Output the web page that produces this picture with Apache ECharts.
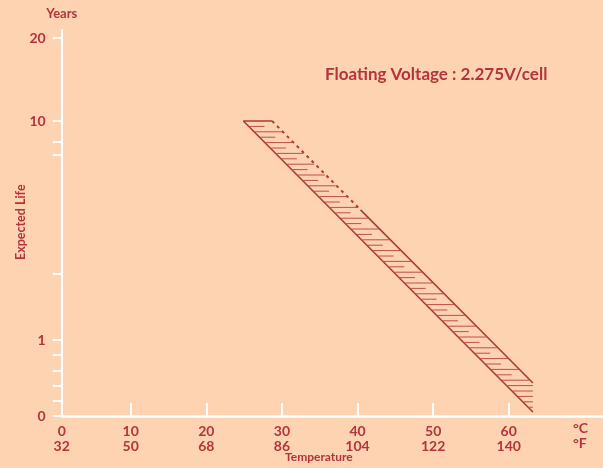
<!DOCTYPE html>
<html><head><meta charset="utf-8">
<script src="https://cdn.jsdelivr.net/npm/echarts@6/dist/echarts.min.js"></script>
<style>html,body{margin:0;padding:0;background:#fdd3b2;overflow:hidden}#c{width:603px;height:468px}</style>
</head><body><div id="c"></div>
<script>
// ---- data ----
const celsiusTicks = [0, 10, 20, 30, 40, 50, 60];
const fahrenheitTicks = [32, 50, 68, 86, 104, 122, 140];
const yLabelValues = [0, 1, 10, 20];
const yTickValues = [0, 0.2, 0.4, 0.6, 0.8, 1, 2, 7, 8, 10, 20];
// band edges: [°C, years]
const topEdge = [[24.9, 10], [28.7, 10]];
const lowerEdge = [[24.9, 10], [53.7, 1], [63.2, 0.053]];
const upperDashed = [[28.7, 10], [40.4, 3.93]];
const upperSolid = [[40.4, 3.93], [57.55, 1], [63.2, 0.434]];
const xOrigin = 0.87;   // axis origin (labelled 0 °C / 32 °F)
const xEnd = 72.47;

// ---- piecewise y scale (linear below 1, logarithmic above) ----
const U1 = 76, UDEC = 219, U2 = 83;
function D(v) {
  if (v <= 1) return v * U1;
  if (v <= 10) return U1 + UDEC * Math.log10(v);
  return U1 + UDEC + U2 * Math.log2(v / 10);
}
const yMax = D(20) + 8;
const toDisp = arr => arr.map(p => [p[0], D(p[1])]);

const TXT = '#b3343c';
const LINE = '#ad3a3a';
const HATCH = '#bd4f4b';
const FONT = 'Lato, "Noto Sans", sans-serif';

function nearestIdx(list, v, f) {
  let bi = 0, bd = Infinity;
  list.forEach((x, i) => { const d = Math.abs((f ? f(x) : x) - v); if (d < bd) { bd = d; bi = i; } });
  return bi;
}

function interpX(poly, y) {
  for (let i = 0; i < poly.length - 1; i++) {
    const a = poly[i], b = poly[i + 1];
    if (y >= a[1] && y <= b[1]) {
      const t = (y - a[1]) / (b[1] - a[1] || 1);
      return a[0] + t * (b[0] - a[0]);
    }
  }
  return null;
}

function renderHatch(params, api) {
  const lower = lowerEdge.map(p => api.coord([p[0], D(p[1])]));
  const upper = upperDashed.concat(upperSolid.slice(1)).map(p => api.coord([p[0], D(p[1])]));
  const topY = lower[0][1], botY = lower[lower.length - 1][1];
  const upEnd = upper[upper.length - 1];
  const step = 5.4;
  const children = [];
  let i = 0;
  for (let y = topY + step; y <= botY - 1; y += step, i++) {
    const xl = interpX(lower, y);
    let xr = y <= upEnd[1] ? interpX(upper, y) : upEnd[0];
    if (xl == null || xr == null) continue;
    let x2;
    if (y > upEnd[1]) x2 = xr;
    else x2 = (i % 2 === 1) ? xr - 1 : xl + 0.55 * (xr - xl);
    children.push({ type: 'line', shape: { x1: xl + 1, y1: y, x2: x2, y2: y },
      style: { stroke: HATCH, lineWidth: 1 } });
  }
  return { type: 'group', children };
}

const chart = echarts.init(document.getElementById('c'));
const lineStyle = { color: LINE, width: 1.6 };
chart.setOption({
  backgroundColor: '#fdd3b2',
  animation: false,
  textStyle: { fontFamily: FONT },
  title: {
    text: 'Floating Voltage : 2.275V/cell',
    left: 320, top: 61,
    textStyle: { color: TXT, fontSize: 17, fontWeight: 'bold', fontFamily: FONT }
  },
  grid: { left: 61.7, right: 0, top: 30, bottom: 52, containLabel: false, outerBoundsMode: 'none' },
  xAxis: {
    type: 'value', min: xOrigin, max: xEnd,
    axisLine: { show: true, lineStyle: { color: '#ffffff', width: 2.5 } },
    splitLine: { show: false },
    axisTick: { show: true, customValues: celsiusTicks.slice(1), inside: true, length: 13,
      lineStyle: { color: '#ffffff', width: 2 } },
    axisLabel: {
      customValues: [xOrigin].concat(celsiusTicks.slice(1)),
      margin: 8, color: TXT, fontSize: 14, fontWeight: 'bold', fontFamily: FONT, lineHeight: 15,
      formatter: v => { const i = nearestIdx(celsiusTicks, v); return celsiusTicks[i] + '\n' + fahrenheitTicks[i]; }
    }
  },
  yAxis: {
    type: 'value', min: 0, max: yMax,
    name: 'Years', nameLocation: 'end', nameGap: 10,
    nameTextStyle: { color: TXT, fontSize: 13, fontWeight: 'bold', fontFamily: FONT, align: 'center' },
    axisLine: { show: true, lineStyle: { color: '#ffffff', width: 2 } },
    splitLine: { show: false },
    axisTick: { show: true, customValues: yTickValues.map(D), length: 9,
      lineStyle: { color: '#ffffff', width: 2 } },
    axisLabel: {
      customValues: yLabelValues.map(D), margin: 16, color: TXT, fontSize: 14, fontWeight: 'bold', fontFamily: FONT,
      formatter: v => String(yLabelValues[nearestIdx(yLabelValues, v, D)])
    }
  },
  graphic: [
    { type: 'text', left: 573, top: 421,
      style: { text: '°C\n°F', fill: TXT, font: 'bold 14px ' + FONT, lineHeight: 15, align: 'right' } },
    { type: 'text', left: 285, top: 451,
      style: { text: 'Temperature', fill: TXT, font: 'bold 12px ' + FONT } },
    { type: 'text', x: 14, y: 260, rotation: Math.PI / 2,
      style: { text: 'Expected Life', fill: TXT, font: 'bold 12.5px ' + FONT } }
  ],
  series: [
    { type: 'custom', renderItem: renderHatch, data: [[0, 0]], silent: true, clip: false },
    { type: 'line', data: toDisp(topEdge), symbol: 'none', lineStyle: lineStyle, silent: true },
    { type: 'line', data: toDisp(lowerEdge), symbol: 'none', lineStyle: lineStyle, silent: true },
    { type: 'line', data: toDisp(upperDashed), symbol: 'none',
      lineStyle: { color: LINE, width: 2, type: [3, 4] }, silent: true },
    { type: 'line', data: toDisp(upperSolid), symbol: 'none', lineStyle: lineStyle, silent: true }
  ]
});
</script></body></html>
